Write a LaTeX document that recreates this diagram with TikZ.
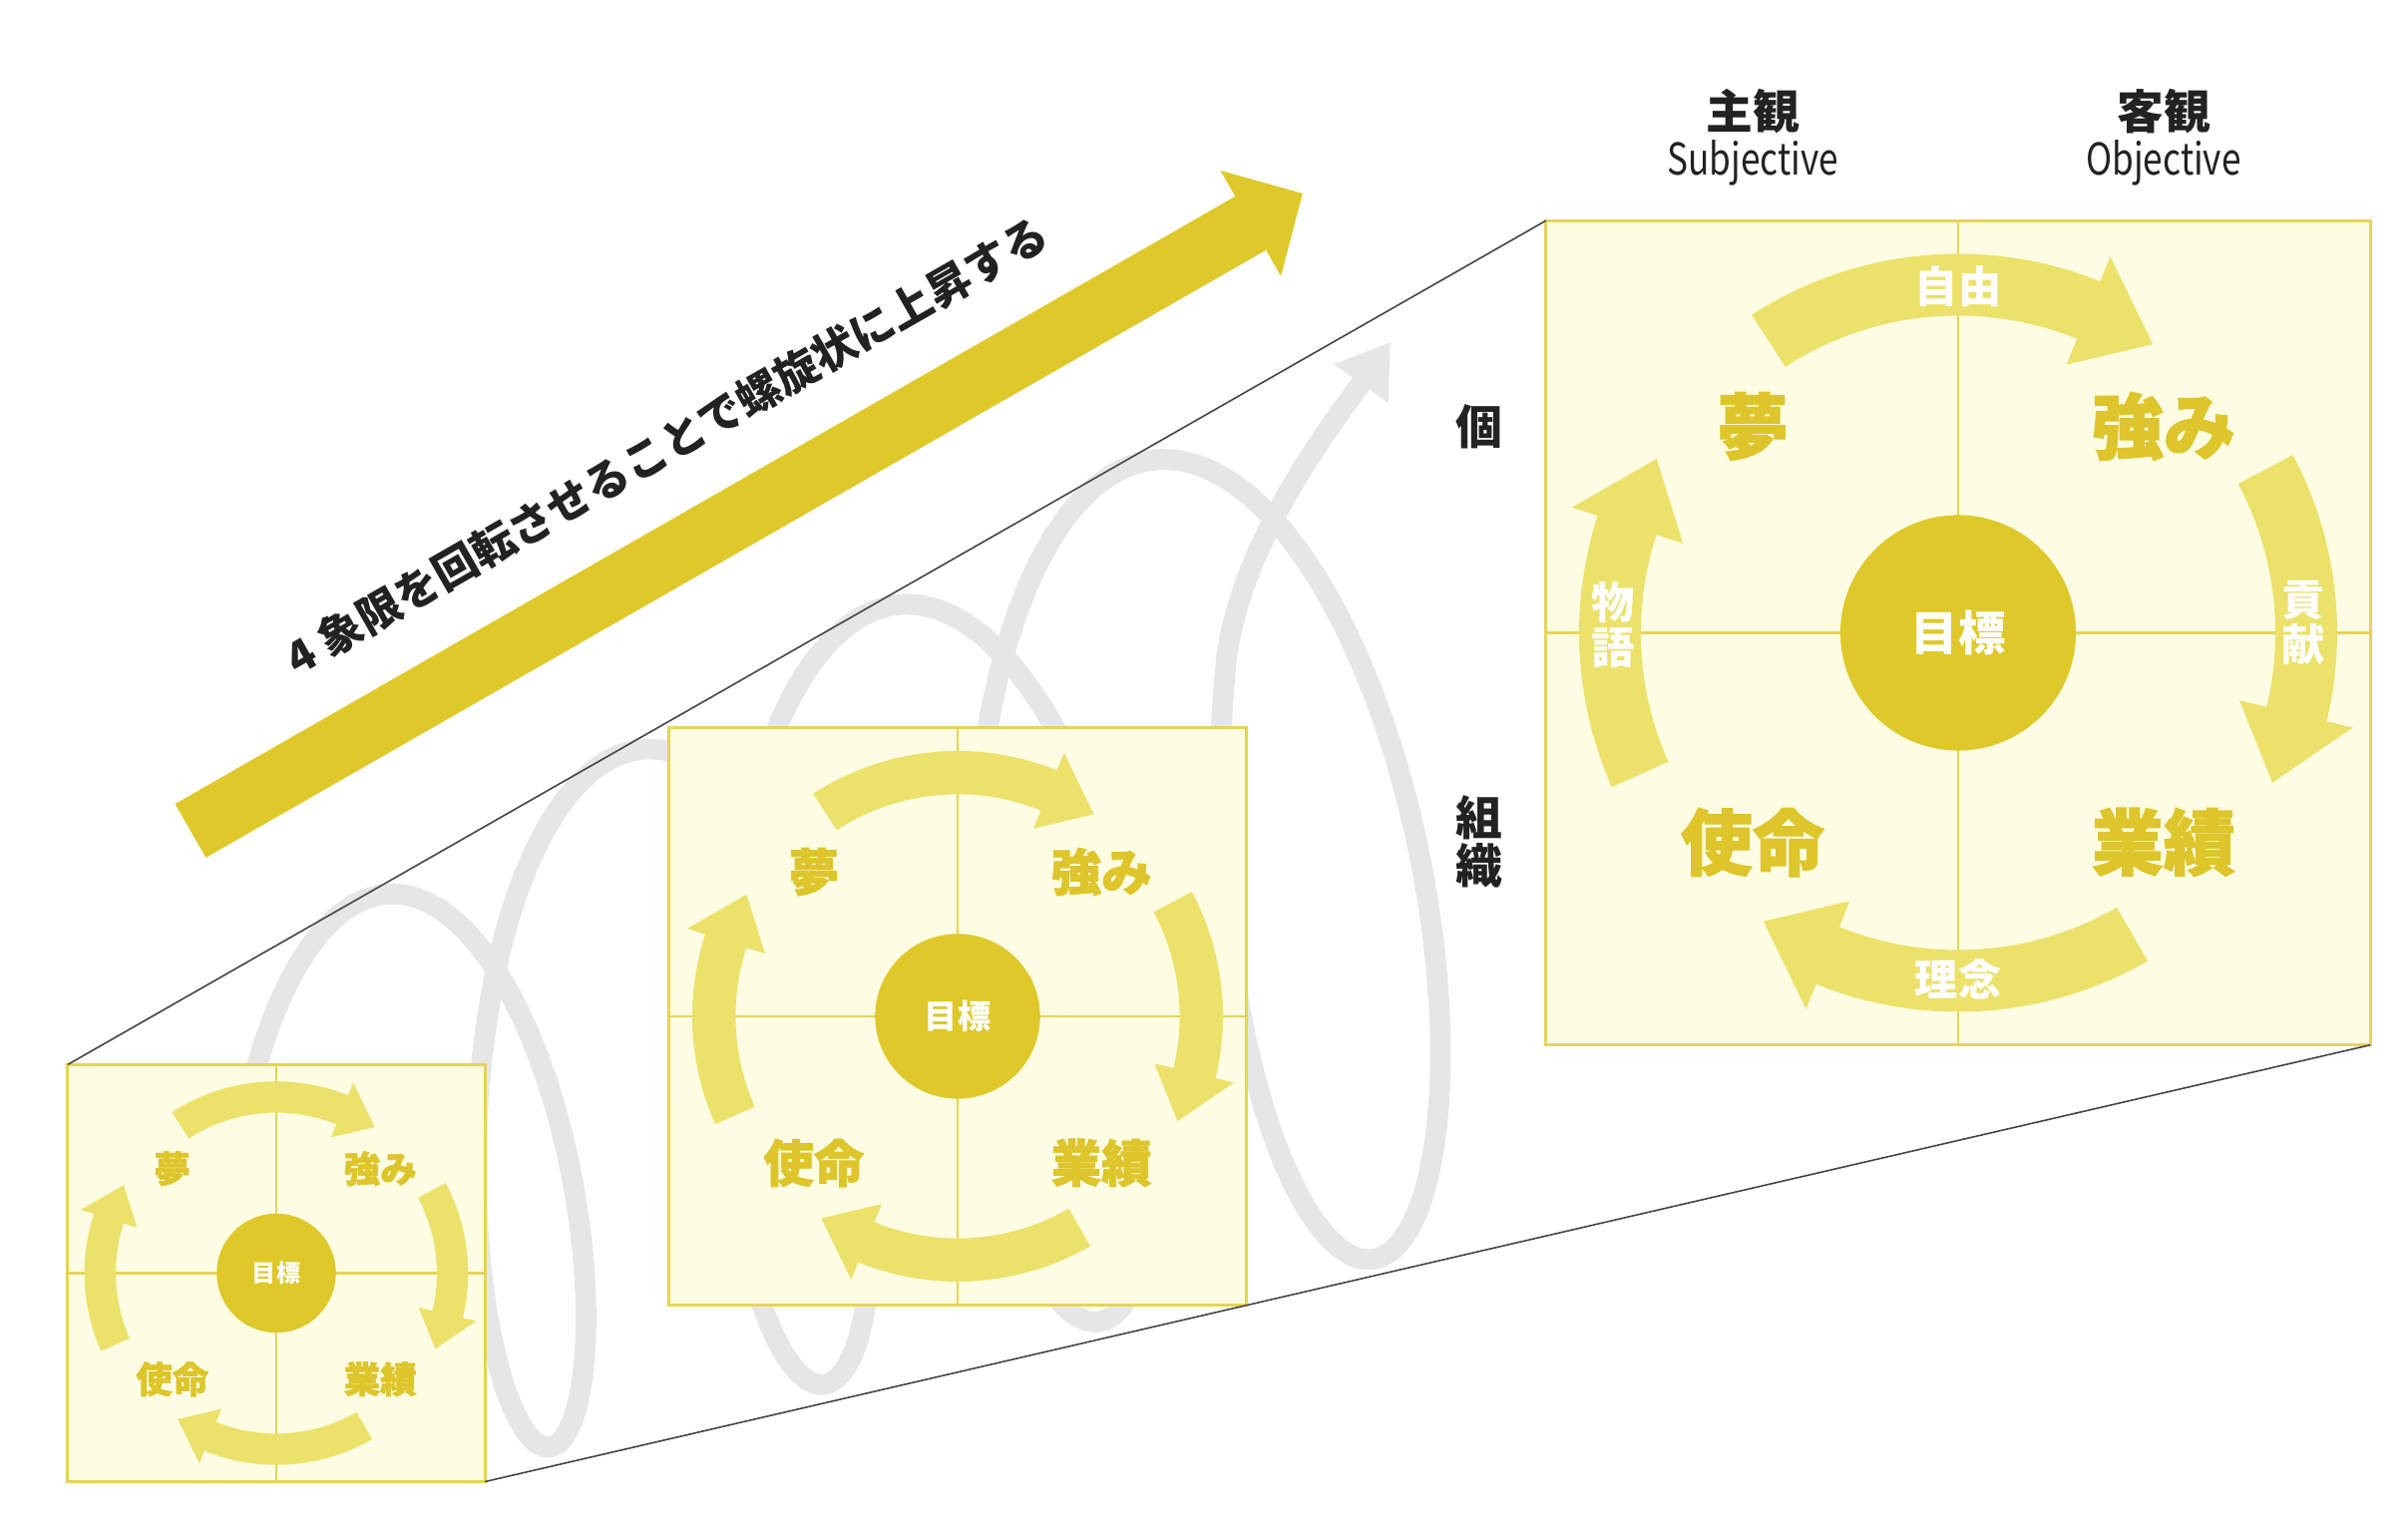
\documentclass[tikz,border=0pt]{standalone}
\usepackage{fontspec}
\newfontfamily\jp{Noto Sans CJK JP}
\newfontfamily\jpheavy{Noto Sans CJK JP}[BoldFeatures={FakeBold=1.6}]
\usetikzlibrary{arrows.meta}
\definecolor{gold}{HTML}{DFC829}
\definecolor{lbl}{HTML}{DDC52B}
\definecolor{arrowy}{HTML}{ECE16A}
\definecolor{boxfill}{HTML}{FEFDE3}
\definecolor{boxline}{HTML}{E6D458}
\definecolor{spiralgray}{HTML}{E6E6E6}
\definecolor{ink}{HTML}{222222}
\definecolor{thinline}{HTML}{444444}

\tikzset{
  qbox/.style={rectangle, draw=boxline, line width=0.8pt, fill=boxfill, minimum size=8.26cm, inner sep=0pt, outer sep=0pt},
  qline/.style={draw=boxline, line width=0.8pt},
  qarrow/.style={fill=arrowy},
  goal/.style={circle, fill=gold, minimum size=2.36cm, inner sep=0pt, text=white, font=\jp\bfseries\fontsize{13.5pt}{15pt}\selectfont},
  qlabel/.style={text=lbl, inner sep=0pt, font=\jpheavy\bfseries\fontsize{20.5pt}{22pt}\selectfont},
  alabel/.style={text=white, inner sep=0pt, align=center, font=\jp\bfseries\fontsize{12.3pt}{13pt}\selectfont},
  headtxt/.style={text=ink, inner sep=0pt, font=\jp\bfseries\fontsize{13.3pt}{15pt}\selectfont},
  subtxt/.style={text=ink, inner sep=0pt, font=\jp\fontsize{12.5pt}{14pt}\selectfont},
  sidetxt/.style={text=ink, inner sep=0pt, align=center, font=\jp\bfseries\fontsize{13.3pt}{13.4pt}\selectfont},
  spiral/.style={draw=spiralgray, line width=5.9pt, line cap=round, line join=round},
  guide/.style={draw=thinline, line width=0.45pt},
  bigarrow/.style={fill=gold},
  slogan/.style={text=ink, inner sep=0pt, font=\jp\bfseries\fontsize{12.5pt}{14pt}\selectfont}
}

\newcommand\QuadDiagram[4]{%
\begin{scope}[shift={(#2,#3)}, scale=#4, transform shape]
  \node[qbox] (#1box) at (0,0) {};
  \draw[qline] (#1box.north) -- (#1box.south);
  \draw[qline] (#1box.west) -- (#1box.east);
  \fill[qarrow] (123:380) arc[start angle=123, end angle=68, radius=380] -- (68:407) -- (56:349) -- (68:290) -- (68:318) arc[start angle=68, end angle=123, radius=318] -- cycle;
  \fill[qarrow] (28:380) arc[start angle=28, end angle=-13.5, radius=380] -- (-13.5:407) -- (-25.5:349) -- (-13.5:290) -- (-13.5:318) arc[start angle=-13.5, end angle=28, radius=318] -- cycle;
  \fill[qarrow] (300:380) arc[start angle=300, end angle=248, radius=380] -- (248:407) -- (236:349) -- (248:290) -- (248:318) arc[start angle=248, end angle=300, radius=318] -- cycle;
  \fill[qarrow] (204:380) arc[start angle=204, end angle=162, radius=380] -- (162:407) -- (150:349) -- (162:290) -- (162:318) arc[start angle=162, end angle=204, radius=318] -- cycle;
  \node[goal] (#1goal) at (0,0) {目標};
  \node[qlabel] (#1yume) at (-206,207) {夢};
  \node[qlabel] (#1tsuyomi) at (206,207) {強み};
  \node[qlabel] (#1shimei) at (-206,-210) {使命};
  \node[qlabel] (#1gyoseki) at (206,-210) {業績};
\end{scope}}

\begin{document}
\begin{tikzpicture}[x=0.01cm, y=0.01cm]
\fill[white] (0,0) rectangle (2414,1528);
\useasboundingbox (0,0) rectangle (2414,1528);

% spiral
\draw[spiral, -{Triangle[length=5.1mm, width=6.3mm]}]
  plot[domain=-0.35:3.8, samples=300]
  ({396+266*\x+(103+18*\x)*sin(360*\x)-(14+8*\x)*cos(360*\x)},
   {338.3+104*\x+(292.7+41.3*\x)*cos(360*\x)})
  .. controls (1242.7,984.5) and (1336,1103.5) .. (1394,1185);

% quadrant diagrams
\QuadDiagram{B}{1963}{893.5}{1}
\QuadDiagram{M}{960}{509}{0.70}
\QuadDiagram{S}{277}{251.5}{0.506}

\begin{scope}[shift={(1963,893.5)}]
  \node[alabel] (jiyu) at (0,347) {自由};
  \node[alabel] (kouken) at (346,10) {貢\\献};
  \node[alabel] (rinen) at (0,-347) {理念};
  \node[alabel] (monogatari) at (-346,8) {物\\語};
\end{scope}

% perspective guide lines
\draw[guide] (Sbox.north west) -- (Bbox.north west);
\draw[guide] (Sbox.south east) -- (Bbox.south east);

% big diagonal arrow
\begin{scope}[shift={(191,695)}, rotate=29.82]
  \fill[bigarrow] (0,-31) -- (1225,-31) -- (1225,-61) -- (1285,0) -- (1225,61) -- (1225,31) -- (0,31) -- cycle;
\end{scope}
\node[slogan, rotate=29.82] (slogan) at (668,1081) {4\hspace{0.25em}象限を回転させることで螺旋状に上昇する};

% headers
\node[headtxt] (shukan) at (1757,1416) {主観};
\node[subtxt] (subj) at (1757,1365) {\scalebox{0.8}[1]{Subjective}};
\node[headtxt] (kyakkan) at (2169,1416) {客観};
\node[subtxt] (obj) at (2169,1365) {\scalebox{0.8}[1]{Objective}};
\node[sidetxt] (ko) at (1483,1100) {個};
\node[sidetxt] (soshiki) at (1483,684) {組\\織};
\end{tikzpicture}
\end{document}
